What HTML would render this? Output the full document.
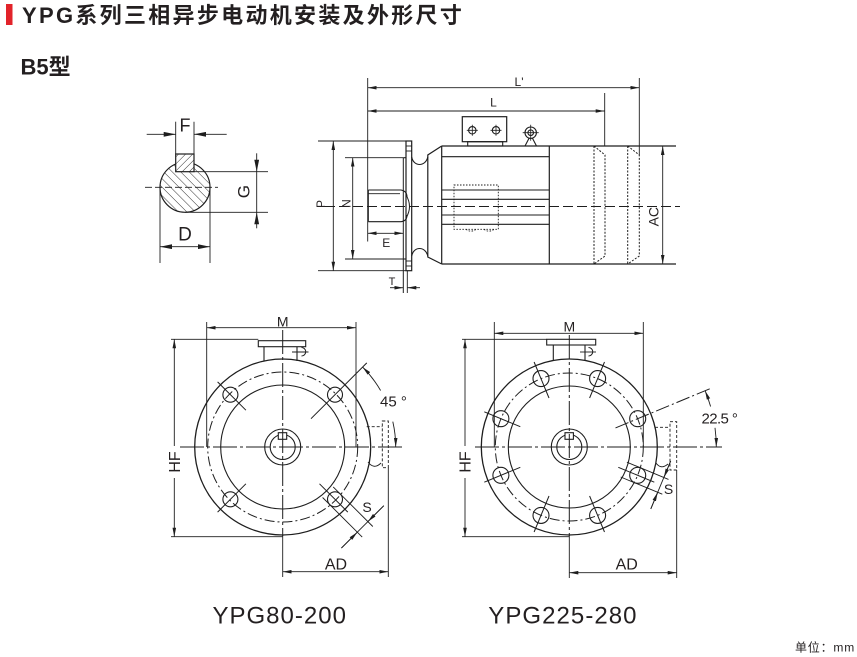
<!DOCTYPE html>
<html><head><meta charset="utf-8"><style>
html,body{margin:0;padding:0;background:#fff;}
svg{display:block}
text{font-family:"Liberation Sans","Noto Sans CJK SC",sans-serif;fill:#231f20}
</style></head><body>
<svg width="857" height="657" viewBox="0 0 857 657" xmlns="http://www.w3.org/2000/svg">
<defs>
<marker id="ar" viewBox="0 0 10 4" refX="10" refY="2" markerWidth="9" markerHeight="3.8" markerUnits="userSpaceOnUse" orient="auto-start-reverse"><path d="M0,0L10,2L0,4z" fill="#1e1e1e"/></marker>
<marker id="arB" viewBox="0 0 10 4" refX="10" refY="2" markerWidth="12" markerHeight="5" markerUnits="userSpaceOnUse" orient="auto-start-reverse"><path d="M0,0L10,2L0,4z" fill="#1e1e1e"/></marker>
<pattern id="hb" width="6" height="6" patternUnits="userSpaceOnUse" patternTransform="rotate(-45)"><line x1="0" y1="0" x2="0" y2="6" stroke="#333" stroke-width="1"/></pattern>
<pattern id="hf" width="5" height="5" patternUnits="userSpaceOnUse" patternTransform="rotate(45)"><line x1="0" y1="0" x2="0" y2="5" stroke="#333" stroke-width="1"/></pattern>
</defs>

<!-- Title -->
<rect x="6" y="4" width="6.5" height="21" fill="#e2232a"/>
<text x="22" y="23" font-size="22" font-weight="bold" letter-spacing="2.3">YPG系列三相异步电动机安装及外形尺寸</text>
<text x="20.5" y="74.5" font-size="22" font-weight="bold">B5型</text>

<!-- ===== Shaft section ===== -->
<g stroke="#1e1e1e" fill="none" stroke-width="1.1">
<line x1="145" y1="187.3" x2="218" y2="187.3" stroke-dasharray="7,3" stroke-width="0.9"/>
<circle cx="185" cy="187.3" r="25" fill="url(#hb)" stroke-width="1.2"/>
<rect x="175.7" y="154" width="18.3" height="17.7" fill="#fff" stroke="none"/>
<rect x="175.7" y="154" width="18.3" height="17.7" fill="url(#hf)" stroke-width="1.2"/>
<!-- F -->
<line x1="175.7" y1="121.7" x2="175.7" y2="154" stroke-width="0.9"/>
<line x1="194" y1="121.7" x2="194" y2="154" stroke-width="0.9"/>
<line x1="146.7" y1="134.3" x2="175.7" y2="134.3" marker-end="url(#arB)" stroke-width="0.9"/>
<line x1="226.7" y1="134.3" x2="194" y2="134.3" marker-end="url(#arB)" stroke-width="0.9"/>
<!-- G -->
<line x1="194" y1="171.7" x2="268" y2="171.7" stroke-width="0.9"/>
<line x1="185" y1="212.3" x2="268" y2="212.3" stroke-width="0.9"/>
<line x1="256.7" y1="171.7" x2="256.7" y2="212.3" stroke-width="0.9"/>
<line x1="256.7" y1="153.3" x2="256.7" y2="171.7" marker-end="url(#arB)" stroke-width="0.9"/>
<line x1="256.7" y1="228.3" x2="256.7" y2="212.3" marker-end="url(#arB)" stroke-width="0.9"/>
<!-- D -->
<line x1="160" y1="187.3" x2="160" y2="263" stroke-width="0.9"/>
<line x1="210" y1="187.3" x2="210" y2="263" stroke-width="0.9"/>
<line x1="160" y1="246.7" x2="210" y2="246.7" marker-start="url(#arB)" marker-end="url(#arB)" stroke-width="0.9"/>
</g>
<text x="185" y="131.5" font-size="18" text-anchor="middle">F</text>
<text transform="translate(243.5,191.7) rotate(-90)" font-size="17" text-anchor="middle" dy="6">G</text>
<text x="185" y="240.5" font-size="19" text-anchor="middle">D</text>

<!-- ===== Side view ===== -->
<g stroke="#1e1e1e" fill="none" stroke-width="1.1">
<line x1="325" y1="206.5" x2="680" y2="206.5" stroke-dasharray="10,4" stroke-width="0.9"/>
<line x1="367.7" y1="78" x2="367.7" y2="241.5" stroke-width="0.9"/>
<line x1="639.3" y1="78" x2="639.3" y2="155" stroke-width="0.9"/>
<line x1="604.7" y1="93" x2="604.7" y2="146" stroke-width="0.9"/>
<line x1="367.7" y1="87.7" x2="639.3" y2="87.7" marker-start="url(#ar)" marker-end="url(#ar)" stroke-width="0.9"/>
<line x1="367.7" y1="111" x2="604.7" y2="111" marker-start="url(#ar)" marker-end="url(#ar)" stroke-width="0.9"/>
<line x1="318" y1="141" x2="406" y2="141" stroke-width="0.9"/>
<line x1="318" y1="270.7" x2="406" y2="270.7" stroke-width="0.9"/>
<line x1="333.3" y1="141" x2="333.3" y2="270.7" marker-start="url(#ar)" marker-end="url(#ar)" stroke-width="0.9"/>
<line x1="345" y1="157.7" x2="403.3" y2="157.7" stroke-width="0.9"/>
<line x1="345" y1="259" x2="403.3" y2="259" stroke-width="0.9"/>
<line x1="352.7" y1="157.7" x2="352.7" y2="259" marker-start="url(#ar)" marker-end="url(#ar)" stroke-width="0.9"/>
<line x1="403.3" y1="157.7" x2="403.3" y2="293" stroke-width="1"/>
<line x1="367.7" y1="233.3" x2="403.3" y2="233.3" marker-start="url(#ar)" marker-end="url(#ar)" stroke-width="0.9"/>
<line x1="407.3" y1="270.7" x2="407.3" y2="293" stroke-width="0.9"/>
<line x1="390" y1="287.7" x2="403.3" y2="287.7" marker-end="url(#ar)" stroke-width="0.9"/>
<line x1="420" y1="287.7" x2="407.3" y2="287.7" marker-end="url(#ar)" stroke-width="0.9"/>
<line x1="403.3" y1="157.7" x2="406" y2="157.7"/>
<line x1="403.3" y1="259" x2="406" y2="259"/>
<path d="M368.3,190 H401 Q407,191 407,197"/>
<path d="M368.3,221.7 H401 Q407,221 407,215"/>
<line x1="368.3" y1="193.7" x2="400" y2="193.7" stroke-width="0.9"/>
<line x1="368.3" y1="190" x2="368.3" y2="221.7"/>
<path d="M406,195 Q413,206.5 406,218" stroke-width="1"/>
<rect x="406" y="141" width="5.7" height="129.7" stroke-width="1.2"/>
<line x1="406" y1="146" x2="411.7" y2="146" stroke-width="0.9"/>
<line x1="406" y1="151" x2="411.7" y2="151" stroke-width="0.9"/>
<line x1="406" y1="261" x2="411.7" y2="261" stroke-width="0.9"/>
<line x1="406" y1="266" x2="411.7" y2="266" stroke-width="0.9"/>
<path d="M411.7,157 C413.5,167 425.5,167 427.8,157"/>
<path d="M411.7,256 C413.5,246 425.5,246 427.8,256"/>
<path d="M441.7,146 L427.8,155 V257 L441.7,264" stroke-width="1.2"/>
<line x1="441.7" y1="146" x2="676" y2="146" stroke-width="1.2"/>
<line x1="441.7" y1="264" x2="676" y2="264" stroke-width="1.2"/>
<line x1="441.7" y1="146" x2="441.7" y2="264" stroke-width="1.2"/>
<line x1="549.3" y1="146" x2="549.3" y2="264" stroke-width="1.2"/>
<line x1="441.7" y1="156.7" x2="549.3" y2="156.7"/>
<line x1="441.7" y1="190" x2="549.3" y2="190"/>
<line x1="441.7" y1="199.3" x2="549.3" y2="199.3"/>
<line x1="441.7" y1="215" x2="549.3" y2="215"/>
<line x1="441.7" y1="224.3" x2="549.3" y2="224.3"/>
<rect x="454" y="185" width="44.3" height="44.3" stroke-dasharray="1.5,1.5" stroke-width="0.9"/>
<path d="M466,229.3 Q471,233 476,229.3 M484,229.3 Q489,233 494,229.3" stroke-dasharray="1.5,1.5" stroke-width="0.9"/>
<path d="M594,146 V264 M594,146 L605,155 V256 L594,264" stroke-dasharray="2,1.5" stroke-width="1"/>
<path d="M627.7,146 V264 M627.7,146 L639.3,155 V256 L627.7,264" stroke-dasharray="2,1.5" stroke-width="1"/>
<line x1="662.7" y1="146" x2="662.7" y2="264" marker-start="url(#ar)" marker-end="url(#ar)" stroke-width="0.9"/>
<rect x="462.3" y="116.7" width="44.4" height="25" stroke-width="1.2"/>
<rect x="467.7" y="141.7" width="35" height="4.3"/>
<circle cx="472.3" cy="130.3" r="3.7"/>
<circle cx="496" cy="130.3" r="3.7"/>
<path d="M466.8,130.3 H477.8 M472.3,124.8 V135.8 M490.5,130.3 H501.5 M496,124.8 V135.8" stroke-width="0.8"/>
<circle cx="530.7" cy="132.7" r="5.7"/>
<circle cx="530.7" cy="132.7" r="2.8"/>
<path d="M522.7,132.7 H538.7 M530.7,124.7 V140.7" stroke-width="0.8"/>
<path d="M525,146 L529.3,137.8 M536.5,146 L532.2,137.8"/>
</g>
<text x="519" y="86" font-size="12" text-anchor="middle">L'</text>
<text x="493.5" y="106.5" font-size="12" text-anchor="middle">L</text>
<text transform="translate(320.8,204) rotate(-90)" font-size="12" text-anchor="middle" dy="4.3">P</text>
<text transform="translate(346.3,203.5) rotate(-90)" font-size="12" text-anchor="middle" dy="4.3">N</text>
<text x="386.3" y="247" font-size="12" text-anchor="middle">E</text>
<text x="392" y="285" font-size="11" text-anchor="middle">T</text>
<text transform="translate(653.3,216.7) rotate(-90)" font-size="14" text-anchor="middle" dy="5">AC</text>

<!-- ===== Left front view (YPG80-200) ===== -->
<g stroke="#1e1e1e" fill="none" stroke-width="1.1">
<circle cx="282.7" cy="447" r="88" stroke-width="1.3"/>
<circle cx="282.7" cy="447" r="75" stroke-dasharray="10,3,2,3" stroke-width="1"/>
<circle cx="282.7" cy="447" r="62"/>
<circle cx="282.7" cy="447" r="18"/>
<circle cx="282.7" cy="447" r="12.5"/>
<rect x="278.3" y="432.7" width="8.4" height="6.6" fill="#fff"/>
<line x1="180" y1="447" x2="402" y2="447" stroke-dasharray="24,3,3,3" stroke-width="1"/>
<line x1="282.7" y1="330" x2="282.7" y2="536" stroke-dasharray="24,3,3,3" stroke-width="1"/>
<line x1="282.7" y1="535" x2="282.7" y2="577" stroke-width="0.9"/>
<circle cx="335" cy="394.7" r="7.5"/>
<circle cx="230.4" cy="394.7" r="7.5"/>
<circle cx="230.4" cy="499.3" r="7.5"/>
<circle cx="335" cy="499.3" r="7.5"/>
<line x1="245.9" y1="410.2" x2="217.6" y2="381.9" stroke-width="1"/>
<line x1="245.9" y1="483.8" x2="217.6" y2="512.1" stroke-width="1"/>
<line x1="319.5" y1="483.8" x2="347.8" y2="512.1" stroke-width="1"/>
<line x1="311" y1="418.7" x2="366.8" y2="362.9" stroke-width="1"/>
<line x1="333.2" y1="486.9" x2="372.8" y2="526.5" stroke-width="0.9"/>
<line x1="322.6" y1="497.5" x2="362.2" y2="537.1" stroke-width="0.9"/>
<line x1="383.8" y1="505.7" x2="341.4" y2="548.1" stroke-width="0.9"/>
<line x1="383.8" y1="505.7" x2="367.9" y2="521.6" marker-end="url(#ar)" stroke-width="0.9"/>
<line x1="341.4" y1="548.1" x2="357.3" y2="532.2" marker-end="url(#ar)" stroke-width="0.9"/>
<path d="M362.6,367.1 A113,113 0 0 1 380.6,390.5" marker-start="url(#ar)" stroke-width="0.9"/>
<path d="M392.8,421.6 A113,113 0 0 1 395.7,447" marker-end="url(#ar)" stroke-width="0.9"/>
<rect x="258.3" y="340.7" width="47.4" height="6"/>
<line x1="264" y1="346.7" x2="264" y2="361.5"/>
<line x1="297" y1="346.7" x2="297" y2="361"/>
<path d="M301.5,347.5 A4.2,4.2 0 0 1 301.5,356" stroke-width="1"/>
<line x1="292" y1="352" x2="308.5" y2="352" stroke-width="0.9"/>
<rect x="382.3" y="421" width="6" height="46.7" stroke-dasharray="3,2" stroke-width="0.9"/>
<line x1="366.7" y1="426.7" x2="382.3" y2="426.7" stroke-dasharray="3,2" stroke-width="0.9"/>
<path d="M368,462 Q374,470 381,463" stroke-width="0.9"/>
<line x1="206.7" y1="322" x2="206.7" y2="447" stroke-width="0.9"/>
<line x1="356" y1="322" x2="356" y2="447" stroke-width="0.9"/>
<line x1="206.7" y1="327.7" x2="356" y2="327.7" marker-start="url(#ar)" marker-end="url(#ar)" stroke-width="0.9"/>
<line x1="171" y1="339.3" x2="258.3" y2="339.3" stroke-width="0.9"/>
<line x1="171" y1="536.7" x2="282.7" y2="536.7" stroke-width="0.9"/>
<line x1="174.3" y1="339.3" x2="174.3" y2="446" marker-start="url(#ar)" stroke-width="0.9"/>
<line x1="174.3" y1="478" x2="174.3" y2="536.7" marker-end="url(#ar)" stroke-width="0.9"/>
<line x1="388.3" y1="467.7" x2="388.3" y2="577" stroke-width="0.9"/>
<line x1="282.7" y1="571.7" x2="388.3" y2="571.7" marker-start="url(#ar)" marker-end="url(#ar)" stroke-width="0.9"/>
</g>
<text x="282.7" y="326.5" font-size="14" text-anchor="middle">M</text>
<text transform="translate(174.3,462) rotate(-90)" font-size="16" text-anchor="middle" dy="5.7">HF</text>
<text x="336" y="569.5" font-size="16" text-anchor="middle">AD</text>
<text x="380" y="406.5" font-size="15">45 °</text>
<text x="367" y="512" font-size="14" text-anchor="middle">S</text>

<!-- ===== Right front view (YPG225-280) ===== -->
<g stroke="#1e1e1e" fill="none" stroke-width="1.1">
<circle cx="569.3" cy="447" r="88" stroke-width="1.3"/>
<circle cx="569.3" cy="447" r="74" stroke-dasharray="10,3,2,3" stroke-width="1"/>
<circle cx="569.3" cy="447" r="61"/>
<circle cx="569.3" cy="447" r="18"/>
<circle cx="569.3" cy="447" r="12.5"/>
<rect x="565" y="432.7" width="8.4" height="6.6" fill="#fff"/>
<line x1="475" y1="447" x2="722" y2="447" stroke-dasharray="24,3,3,3" stroke-width="1"/>
<line x1="569.3" y1="335" x2="569.3" y2="536" stroke-dasharray="24,3,3,3" stroke-width="1"/>
<line x1="569.3" y1="535" x2="569.3" y2="578" stroke-width="0.9"/>
<circle cx="637.7" cy="418.7" r="8"/>
<circle cx="597.6" cy="378.6" r="8"/>
<circle cx="541" cy="378.6" r="8"/>
<circle cx="500.9" cy="418.7" r="8"/>
<circle cx="500.9" cy="475.3" r="8"/>
<circle cx="541" cy="515.4" r="8"/>
<circle cx="597.6" cy="515.4" r="8"/>
<circle cx="637.7" cy="475.3" r="8"/>
<g stroke-width="1">
<line x1="589.6" y1="398" x2="604.5" y2="362"/>
<line x1="549" y1="398" x2="534.1" y2="362"/>
<line x1="520.3" y1="426.7" x2="484.3" y2="411.8"/>
<line x1="520.3" y1="467.3" x2="484.3" y2="482.2"/>
<line x1="549" y1="496" x2="534.1" y2="532"/>
<line x1="589.6" y1="496" x2="604.5" y2="532"/>
<line x1="618.3" y1="467.3" x2="654.3" y2="482.2"/>
</g>
<line x1="615.5" y1="427.9" x2="711" y2="388.3" stroke-dasharray="14,3,2,3" stroke-width="1"/>
<path d="M705.1,390.7 A147,147 0 0 1 710.6,406.5" marker-start="url(#ar)" stroke-width="0.9"/>
<path d="M715,427.8 A147,147 0 0 1 716.3,447" marker-end="url(#ar)" stroke-width="0.9"/>
<line x1="626.9" y1="462.2" x2="668.5" y2="479.4" stroke-width="0.9"/>
<line x1="620.7" y1="477" x2="662.3" y2="494.2" stroke-width="0.9"/>
<line x1="670.7" y1="460.9" x2="650.8" y2="508.9" stroke-width="0.9"/>
<line x1="670.7" y1="460.9" x2="663.9" y2="477.5" marker-end="url(#ar)" stroke-width="0.9"/>
<line x1="650.8" y1="508.9" x2="657.7" y2="492.3" marker-end="url(#ar)" stroke-width="0.9"/>
<rect x="546.7" y="339.3" width="49" height="5.7"/>
<line x1="553.3" y1="345" x2="553.3" y2="360.5"/>
<line x1="585" y1="345" x2="585" y2="360"/>
<path d="M588.5,347.5 A4.2,4.2 0 0 1 588.5,356" stroke-width="1"/>
<line x1="580" y1="352" x2="596" y2="352" stroke-width="0.9"/>
<rect x="670" y="421.7" width="6.7" height="48.3" stroke-dasharray="3,2" stroke-width="0.9"/>
<line x1="655" y1="427.3" x2="670" y2="427.3" stroke-dasharray="3,2" stroke-width="0.9"/>
<path d="M656,463 Q661,470 668,464" stroke-width="0.9"/>
<line x1="494.3" y1="322" x2="494.3" y2="447" stroke-width="0.9"/>
<line x1="643.3" y1="322" x2="643.3" y2="447" stroke-width="0.9"/>
<line x1="494.3" y1="333.3" x2="643.3" y2="333.3" marker-start="url(#ar)" marker-end="url(#ar)" stroke-width="0.9"/>
<line x1="462" y1="339.3" x2="546.7" y2="339.3" stroke-width="0.9"/>
<line x1="462" y1="536.7" x2="569.3" y2="536.7" stroke-width="0.9"/>
<line x1="465" y1="339.3" x2="465" y2="446" marker-start="url(#ar)" stroke-width="0.9"/>
<line x1="465" y1="478" x2="465" y2="536.7" marker-end="url(#ar)" stroke-width="0.9"/>
<line x1="676.7" y1="470" x2="676.7" y2="578" stroke-width="0.9"/>
<line x1="569.3" y1="572.7" x2="676.7" y2="572.7" marker-start="url(#ar)" marker-end="url(#ar)" stroke-width="0.9"/>
</g>
<text x="569.3" y="331.5" font-size="14" text-anchor="middle">M</text>
<text transform="translate(465,462) rotate(-90)" font-size="16" text-anchor="middle" dy="5.7">HF</text>
<text x="626.7" y="569.3" font-size="16" text-anchor="middle">AD</text>
<text x="701.5" y="423.3" font-size="15" letter-spacing="-0.6">22.5 °</text>
<text x="668.5" y="494" font-size="14" text-anchor="middle">S</text>

<!-- Bottom labels -->
<text x="212.5" y="623.3" font-size="24" letter-spacing="1">YPG80-200</text>
<text x="488.3" y="623.3" font-size="24" letter-spacing="1.05">YPG225-280</text>
<text x="795" y="651.5" font-size="12" letter-spacing="0.8">单位：mm</text>
</svg>
</body></html>
